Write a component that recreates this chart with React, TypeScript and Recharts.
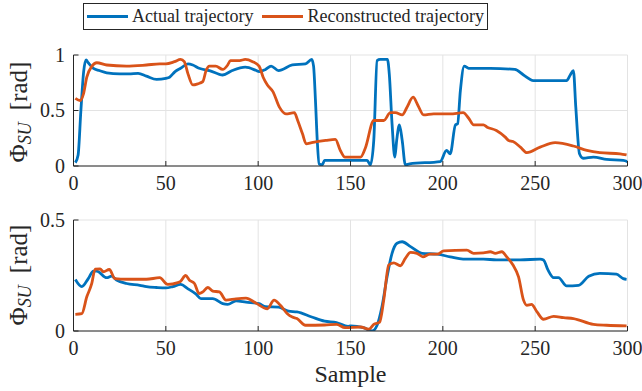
import React from "react";
import { LineChart, Line, XAxis, YAxis, CartesianGrid } from "recharts";

// ---- data ----
const seriesNames = ["Actual trajectory", "Reconstructed trajectory"];
const seriesColors = ["#0072BD", "#D95319"];
const xTicks = [0, 50, 100, 150, 200, 250, 300];
const topYTicks = [0, 0.5, 1];
const bottomYTicks = [0, 0.5];
const xLabel = "Sample";

const actualTop: [number, number][] = [
  [1, 0.03], [2.5, 0.1], [4, 0.5], [5.5, 0.85], [6.8, 0.955], [8, 0.93], [10.8, 0.88], [14, 0.86], [18, 0.84],
  [25, 0.83], [30, 0.83], [35, 0.835], [39.5, 0.81], [45, 0.78], [50, 0.79], [52, 0.8], [55, 0.85], [58, 0.88],
  [62, 0.92], [64.6, 0.91], [68, 0.88], [73.6, 0.86], [80.8, 0.82], [86, 0.86], [93, 0.89], [99, 0.86],
  [100.5, 0.85], [104, 0.87], [107, 0.9], [111, 0.86], [118.5, 0.91], [125.6, 0.92], [129, 0.96], [130, 0.9],
  [131, 0.6], [132, 0.23], [133, 0.02], [134.6, 0.01], [136, 0.05], [145, 0.05], [159, 0.05], [160.8, 0.01],
  [162.6, 0.23], [164.4, 0.95], [166, 0.96], [170, 0.96], [171, 0.83], [172.5, 0.38], [174, 0.08], [175, 0.23],
  [176.5, 0.37], [178, 0.23], [179.7, 0.01], [182, 0.02], [198.6, 0.04], [202, 0.14], [204, 0.11], [206.8, 0.37],
  [208, 0.38], [209.5, 0.68], [211.6, 0.9], [214, 0.88], [225.7, 0.88], [239, 0.87], [243.7, 0.82], [249, 0.77],
  [267, 0.77], [269, 0.82], [270.7, 0.86], [272, 0.53], [274, 0.11], [276, 0.07], [281.5, 0.08], [288.7, 0.06],
  [297.7, 0.05], [300, 0.04],
];

const reconTop: [number, number][] = [
  [1, 0.61], [3.6, 0.59], [5.4, 0.65], [7.2, 0.8], [10, 0.9], [12.6, 0.93], [18, 0.91], [28.7, 0.9], [39.5, 0.91],
  [46.7, 0.92], [50, 0.92], [54.7, 0.94], [58, 0.96], [60, 0.94], [62, 0.83], [64.6, 0.73], [67.3, 0.74],
  [70, 0.76], [71.8, 0.86], [73.6, 0.9], [77, 0.9], [80.8, 0.87], [83.5, 0.91], [85, 0.95], [90, 0.95],
  [93, 0.96], [97, 0.94], [100.5, 0.9], [102.7, 0.8], [105, 0.73], [108, 0.67], [111.5, 0.53], [115, 0.47],
  [119.6, 0.48], [121.4, 0.41], [124, 0.29], [126, 0.2], [129, 0.21], [136.6, 0.23], [141.8, 0.24],
  [144.5, 0.14], [147, 0.08], [155.4, 0.08], [158, 0.16], [162.6, 0.41], [168, 0.41], [171.6, 0.48],
  [174.3, 0.48], [178, 0.46], [180.6, 0.53], [183.9, 0.62], [186.4, 0.55], [189.6, 0.46], [195, 0.47],
  [204, 0.47], [211, 0.48], [214, 0.43], [216.7, 0.37], [222, 0.37], [224, 0.35], [229, 0.32], [233.8, 0.26],
  [235.6, 0.23], [238, 0.22], [242, 0.17], [245.5, 0.12], [252.7, 0.17], [260.8, 0.21], [270.7, 0.18],
  [278, 0.14], [285, 0.12], [296, 0.11], [299.5, 0.1],
];

const actualBottom: [number, number][] = [
  [1, 0.232], [4.5, 0.2], [8, 0.236], [10.8, 0.27], [12.6, 0.27], [18, 0.24], [20.6, 0.247], [23.3, 0.23],
  [28.7, 0.214], [35.9, 0.206], [39.5, 0.2], [45, 0.196], [50, 0.194], [53.8, 0.2], [58, 0.21], [62, 0.19],
  [66.4, 0.166], [69, 0.146], [75.4, 0.146], [80.8, 0.123], [83.5, 0.12], [88, 0.136], [93.4, 0.13],
  [100.5, 0.123], [104, 0.11], [111, 0.108], [116.5, 0.089], [121, 0.086], [129, 0.063], [136, 0.044],
  [142.4, 0.038], [148.7, 0.021], [150, 0.023], [157, 0.015], [161.7, 0.0], [164.4, 0.026], [167, 0.108],
  [169.8, 0.244], [172.5, 0.35], [175.2, 0.395], [178, 0.402], [182.5, 0.38], [188.7, 0.35], [197, 0.346],
  [204, 0.334], [211, 0.324], [222, 0.324], [229, 0.32], [242, 0.32], [252.7, 0.324], [254.5, 0.32],
  [257, 0.274], [260, 0.24], [262.6, 0.24], [267, 0.203], [273.5, 0.206], [279, 0.247], [285, 0.26],
  [294, 0.256], [297.7, 0.236], [299.5, 0.233],
];

const reconBottom: [number, number][] = [
  [1, 0.075], [4.5, 0.078], [7.2, 0.154], [9.9, 0.214], [11.7, 0.279], [14.4, 0.28], [16.2, 0.267],
  [19.4, 0.277], [22.4, 0.236], [28.7, 0.233], [39.5, 0.233], [46.7, 0.24], [51, 0.21], [56.5, 0.218],
  [58, 0.224], [60.7, 0.25], [62.8, 0.229], [65.5, 0.214], [68, 0.169], [70, 0.176], [72.7, 0.196],
  [75.4, 0.18], [79, 0.176], [82.6, 0.139], [88, 0.145], [93.4, 0.148], [98.7, 0.126], [105, 0.1],
  [108.6, 0.139], [112, 0.116], [115.8, 0.078], [118.5, 0.063], [121, 0.056], [125.6, 0.026], [136, 0.027],
  [142.4, 0.03], [147, 0.015], [155.4, 0.018], [160, 0.008], [162.6, 0.03], [165.8, 0.04], [168, 0.139],
  [170.7, 0.297], [173.4, 0.307], [177, 0.294], [179.7, 0.327], [182.5, 0.354], [186, 0.35], [189.2, 0.334],
  [193, 0.346], [197, 0.346], [200.5, 0.361], [213, 0.364], [216.7, 0.35], [222, 0.352], [225.7, 0.357],
  [228.4, 0.35], [232, 0.357], [234.6, 0.334], [238, 0.297], [241, 0.244], [243.7, 0.139], [245.5, 0.116],
  [248, 0.12], [251, 0.086], [254.5, 0.053], [260, 0.066], [265.4, 0.06], [270.7, 0.056], [281.5, 0.03],
  [288.7, 0.026], [299.5, 0.023],
];

const toObjs = (pts: [number, number][]) => pts.map(([x, y]) => ({ x, y }));

const FONT = "Liberation Serif";
const TXT = "#262626";
const GRID = "#e3e3e3";

function XTick(props: any) {
  const { x, y, payload } = props;
  return (
    <text x={x} y={y + 14} textAnchor="middle" fontFamily={FONT} fontSize={20} fill={TXT}>
      {payload.value}
    </text>
  );
}

function YTick(props: any) {
  const { x, y, payload } = props;
  return (
    <text x={x} y={y + 6.5} textAnchor="end" fontFamily={FONT} fontSize={20} fill={TXT}>
      {payload.value}
    </text>
  );
}

type PanelProps = {
  top: number;
  marginTop: number;
  height: number;
  yDomain: [number, number];
  yTicks: number[];
  series: [number, number][][];
};

function Panel({ top, marginTop, height, yDomain, yTicks, series }: PanelProps) {
  return (
    <div style={{ position: "absolute", left: 0, top, fontFamily: FONT }}>
      <LineChart
        width={642}
        height={height}
        margin={{ top: marginTop, right: 14.5, left: 0, bottom: 0 }}
      >
        <CartesianGrid xAxisId="b" yAxisId="l" stroke={GRID} strokeWidth={1} />
        <XAxis
          xAxisId="b"
          dataKey="x"
          type="number"
          domain={[0, 300]}
          ticks={xTicks}
          allowDataOverflow
          height={34}
          tickSize={-5}
          tickMargin={15}
          axisLine={{ stroke: TXT }}
          tickLine={{ stroke: TXT }}
          tick={<XTick />}
        />
        <XAxis
          xAxisId="t"
          orientation="top"
          dataKey="x"
          type="number"
          domain={[0, 300]}
          ticks={xTicks}
          height={0}
          tickSize={-5}
          tick={false}
          axisLine={{ stroke: TXT }}
          tickLine={{ stroke: TXT }}
        />
        <YAxis
          yAxisId="l"
          type="number"
          domain={yDomain}
          ticks={yTicks}
          allowDataOverflow
          width={73.5}
          tickSize={-5}
          tickMargin={13.5}
          axisLine={{ stroke: TXT }}
          tickLine={{ stroke: TXT }}
          tick={<YTick />}
        />
        <YAxis
          yAxisId="r"
          orientation="right"
          type="number"
          domain={yDomain}
          ticks={yTicks}
          width={0}
          tickSize={-5}
          tick={false}
          axisLine={{ stroke: TXT }}
          tickLine={{ stroke: TXT }}
        />
        {series.map((pts, i) => (
          <Line
            key={i}
            xAxisId="b"
            yAxisId="l"
            data={toObjs(pts)}
            dataKey="y"
            type="monotone"
            stroke={seriesColors[i]}
            strokeWidth={2.8}
            dot={false}
            activeDot={false}
            isAnimationActive={false}
          />
        ))}
      </LineChart>
    </div>
  );
}

function YLabel({ cy }: { cy: number }) {
  return (
    <div
      style={{
        position: "absolute",
        left: 18,
        top: cy,
        transform: "translate(-50%, -50%) rotate(-90deg)",
        whiteSpace: "nowrap",
        fontFamily: FONT,
        fontSize: 25,
        color: TXT,
        lineHeight: 1,
      }}
    >
      Φ
      <span style={{ fontStyle: "italic", fontSize: 18, position: "relative", top: 4 }}>SU</span>
      <span style={{ marginLeft: 12 }}>[rad]</span>
    </div>
  );
}

export default function App() {
  return (
    <div
      style={{
        position: "absolute",
        left: 0,
        top: 0,
        width: 642,
        height: 391,
        background: "#fff",
        overflow: "hidden",
      }}
    >
      <Panel top={0} marginTop={55} height={200} yDomain={[0, 1]} yTicks={topYTicks} series={[actualTop, reconTop]} />
      <Panel top={200} marginTop={20} height={165} yDomain={[0, 0.5]} yTicks={bottomYTicks} series={[actualBottom, reconBottom]} />
      <YLabel cy={112} />
      <YLabel cy={275} />
      <div
        style={{
          position: "absolute",
          left: 73.5,
          width: 554,
          top: 360,
          textAlign: "center",
          fontFamily: FONT,
          fontSize: 24,
          color: TXT,
          lineHeight: "28px",
        }}
      >
        {xLabel}
      </div>
      <div
        style={{
          position: "absolute",
          left: 83,
          top: 3,
          width: 403,
          height: 25,
          border: `1px solid ${TXT}`,
          background: "#fff",
          display: "flex",
          alignItems: "center",
          fontFamily: FONT,
          fontSize: 18,
          color: TXT,
          whiteSpace: "nowrap",
        }}
      >
        {seriesNames.map((name, i) => (
          <div key={name} style={{ display: "flex", alignItems: "center", marginLeft: i === 0 ? 3 : 9 }}>
            <div style={{ width: 41, height: 3, background: seriesColors[i], marginRight: 4 }} />
            <span>{name}</span>
          </div>
        ))}
      </div>
    </div>
  );
}
